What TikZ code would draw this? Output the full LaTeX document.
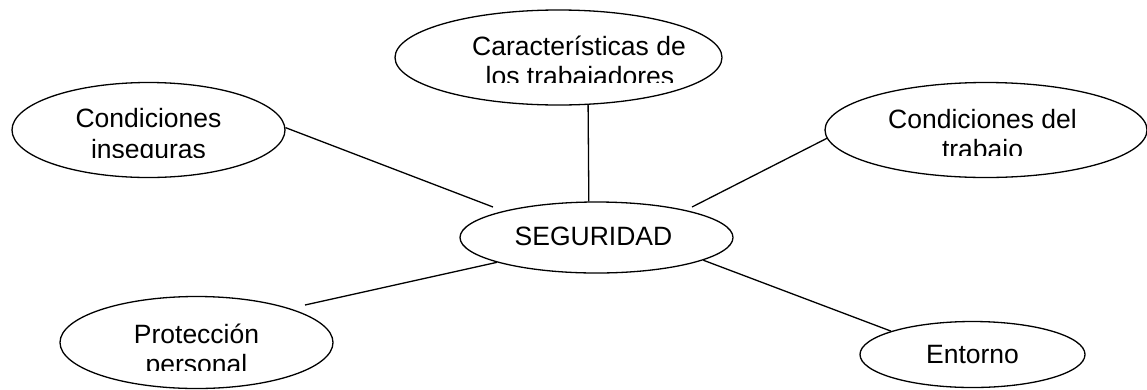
\documentclass[tikz,border=0pt]{standalone}
\usepackage{fontspec}
\setmainfont{Liberation Sans}
\usetikzlibrary{shapes.geometric}
\begin{document}
\begin{tikzpicture}[x=1pt,y=-1pt,
  ell/.style={draw, ellipse, line width=1.3pt, inner sep=0pt},
  lbl/.style={anchor=base, inner sep=0pt, font=\fontsize{26.5}{30}\selectfont},
  link/.style={line width=1.3pt}]
\useasboundingbox (0,0) rectangle (1147,389);
% ellipses
\node[ell, minimum width=273pt, minimum height=95pt] (ci) at (148.5,130) {};
\node[ell, minimum width=327pt, minimum height=95pt] (ct) at (558.5,57.5) {};
\node[ell, minimum width=322pt, minimum height=95pt] (cd) at (986,130) {};
\node[ell, minimum width=273pt, minimum height=71pt] (seg) at (596.5,237.5) {};
\node[ell, minimum width=273pt, minimum height=92pt] (pp) at (196.5,342.5) {};
\node[ell, minimum width=225pt, minimum height=66pt] (en) at (972.5,354.5) {};
% texts
\node[lbl] (ci1) at (148.5,127) {Condiciones};
\begin{scope}\clip (0,0) rectangle (1147,157);
\node[lbl] (ci2) at (148.5,158) {inseguras};
\end{scope}
\node[lbl] (ct1) at (579,55) {Características de};
\begin{scope}\clip (0,0) rectangle (1147,82);
\node[lbl] (ct2) at (580,85) {los trabajadores};
\end{scope}
\node[lbl] (cd1) at (982.5,128) {Condiciones del};
\begin{scope}\clip (0,0) rectangle (1147,155);
\node[lbl] (cd2) at (982.5,158) {trabajo};
\end{scope}
\node[lbl] (seg1) at (593.5,245) {SEGURIDAD};
\node[lbl] (pp1) at (196.5,343) {Protección};
\begin{scope}\clip (0,0) rectangle (1147,370);
\node[lbl] (pp2) at (196.5,373) {personal};
\end{scope}
\node[lbl] (en1) at (972.5,363) {Entorno};
% connectors
\coordinate (g1) at (493,207);
\coordinate (g2) at (692,207);
\coordinate (g3) at (305,305);
\draw[link] (ci.1) -- (g1);
\draw[link] (ct.-58) -- (seg.102);
\draw[link] (cd.183) -- (g2);
\draw[link] (seg.194) -- (g3);
\draw[link] (seg.-12) -- (en.164);
\end{tikzpicture}
\end{document}
